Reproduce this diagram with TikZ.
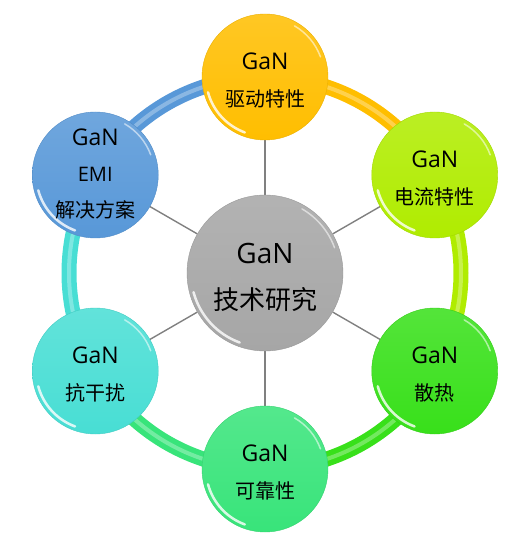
\documentclass[tikz,border=0pt]{standalone}
\usepackage{fontspec}
\setmainfont{Open Sans}
\newfontfamily\cjk{Noto Sans CJK SC}
\usetikzlibrary{positioning, backgrounds}
\definecolor{hubgray}{RGB}{166,166,166}
\definecolor{spokegray}{RGB}{128,128,128}
\definecolor{drivegold}{RGB}{255,190,0}
\definecolor{currentlime}{RGB}{176,236,0}
\definecolor{heatgreen}{RGB}{56,224,26}
\definecolor{relygreen}{RGB}{56,228,122}
\definecolor{emcteal}{RGB}{72,222,212}
\definecolor{emiblue}{RGB}{88,152,216}
\tikzset{
  ball/.style={circle, inner sep=0pt, align=center, top color=#1!86!white,
    bottom color=#1, draw=#1!92!black, line width=0.4pt},
  outerball/.style={minimum size=126pt, text height=61pt, text depth=2pt,
    font=\fontsize{20}{37}\selectfont\cjk},
  gloss/.style={path picture={
    \draw[white, opacity=.8, line width=2.5pt, line cap=round]
      (path picture bounding box.center) ++(195:#1) arc[start angle=195, end angle=250, radius=#1];
    \draw[white, opacity=.55, line width=1.5pt, line cap=round]
      (path picture bounding box.center) ++(20:#1) arc[start angle=20, end angle=60, radius=#1];}},
  band/.style={line width=15pt, draw=#1,
    postaction={draw=#1!45!white, line width=4pt, opacity=.55}},
  spoke/.style={draw=spokegray, line width=1.4pt}
}
\newcommand{\ganlabel}{{\rmfamily\fontsize{23}{37}\selectfont GaN}}

\begin{document}
\begin{tikzpicture}[x=1pt, y=1pt]
  \useasboundingbox (-265,-270) rectangle (250,273);

  % hub
  \node[ball=hubgray, minimum size=156pt, text height=76pt, text depth=3pt, gloss=74pt,
    font=\fontsize{26}{46}\selectfont\cjk] (hub) at (0,0)
    {{\rmfamily\fontsize{28}{46}\selectfont GaN}\\技术研究};

  % topics around the hub
  \node[ball=drivegold, outerball, gloss=59pt] (drive) at (90:196) {\ganlabel\\驱动特性};
  \node[ball=currentlime, outerball, gloss=59pt] (current) at (30:196) {\ganlabel\\电流特性};
  \node[ball=heatgreen, outerball, gloss=59pt] (heat) at (-30:196) {\ganlabel\\散热};
  \node[ball=relygreen, outerball, gloss=59pt] (rely) at (-90:196) {\ganlabel\\可靠性};
  \node[ball=emcteal, outerball, gloss=59pt] (immune) at (210:196) {\ganlabel\\抗干扰};
  \node[ball=emiblue, outerball, text height=88pt, font=\fontsize{20}{36}\selectfont\cjk,
    gloss=59pt] (emi) at (150:196) {\ganlabel\\{\rmfamily EMI}\\解决方案};

  % ring and spokes
  \begin{scope}[on background layer]
    \draw[band=drivegold] (drive.center) arc[start angle=90, end angle=30, radius=196];
    \draw[band=currentlime] (current.center) arc[start angle=30, end angle=-30, radius=196];
    \draw[band=heatgreen] (heat.center) arc[start angle=-30, end angle=-90, radius=196];
    \draw[band=relygreen] (rely.center) arc[start angle=-90, end angle=-150, radius=196];
    \draw[band=emcteal] (immune.center) arc[start angle=210, end angle=150, radius=196];
    \draw[band=emiblue] (emi.center) arc[start angle=150, end angle=90, radius=196];
    \foreach \n in {drive, current, heat, rely, immune, emi}
      \draw[spoke] (hub) -- (\n);
  \end{scope}

\end{tikzpicture}
\end{document}
